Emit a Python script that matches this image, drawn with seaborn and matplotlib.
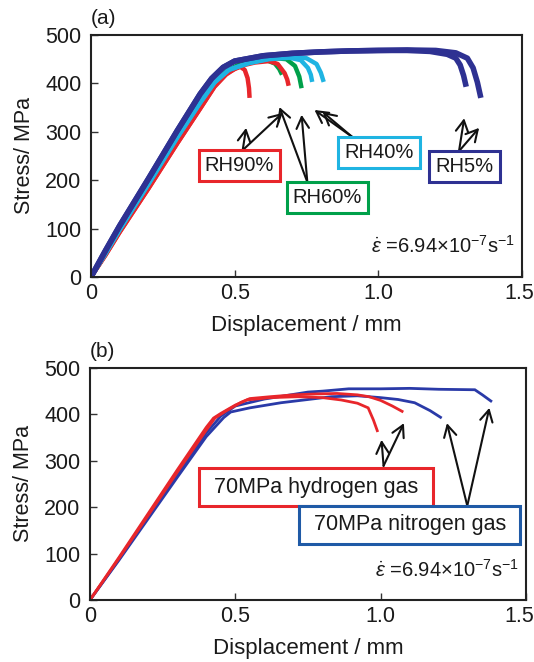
import matplotlib
matplotlib.use("Agg")
import matplotlib.pyplot as plt
from matplotlib.transforms import ScaledTranslation
import numpy as np
import pandas as pd
import seaborn as sns

# ---------------- (a) humidity series: displacement (mm) / stress (MPa) ----------------
rh90_1_x = [0, 0.05, 0.10, 0.20, 0.30, 0.38, 0.43, 0.47, 0.50, 0.52, 0.535, 0.545, 0.550, 0.552]
rh90_1_y = [0, 45, 93, 183, 276, 348, 393, 418, 430, 434, 428, 411, 390, 370]
rh90_2_x = [0, 0.05, 0.10, 0.20, 0.30, 0.38, 0.43, 0.47, 0.52, 0.57, 0.62, 0.65, 0.674, 0.683, 0.688]
rh90_2_y = [0, 45, 93, 183, 276, 348, 394, 420, 436, 443, 446, 440, 421, 408, 395]

rh60_1_x = [0, 0.05, 0.10, 0.20, 0.30, 0.38, 0.43, 0.47, 0.52, 0.57, 0.61, 0.64, 0.655, 0.665]
rh60_1_y = [0, 47, 96, 188, 282, 354, 398, 424, 440, 447, 448, 441, 430, 418]
rh60_2_x = [0, 0.05, 0.10, 0.20, 0.30, 0.38, 0.43, 0.47, 0.52, 0.58, 0.64, 0.68, 0.71, 0.725, 0.733]
rh60_2_y = [0, 47, 96, 188, 282, 354, 398, 424, 440, 448, 452, 450, 436, 414, 390]

rh40_1_x = [0, 0.05, 0.10, 0.20, 0.30, 0.38, 0.43, 0.48, 0.55, 0.62, 0.69, 0.73, 0.755, 0.765, 0.770]
rh40_1_y = [0, 48, 98, 192, 288, 360, 402, 428, 442, 450, 453, 448, 432, 418, 403]
rh40_2_x = [0, 0.05, 0.10, 0.20, 0.30, 0.38, 0.43, 0.48, 0.55, 0.62, 0.70, 0.75, 0.785, 0.800, 0.810]
rh40_2_y = [0, 48, 98, 192, 288, 360, 402, 428, 442, 451, 455, 452, 440, 422, 403]

rh5_1_x = [0, 0.05, 0.10, 0.20, 0.30, 0.38, 0.42, 0.46, 0.50, 0.60, 0.70, 0.80, 0.90, 1.00,
           1.10, 1.18, 1.24, 1.27, 1.285, 1.297, 1.306]
rh5_1_y = [0, 54, 106, 203, 302, 378, 410, 433, 446, 457, 462, 465, 467, 468,
           468, 466, 460, 452, 438, 416, 393]
rh5_2_x = [0, 0.05, 0.10, 0.20, 0.30, 0.38, 0.42, 0.46, 0.50, 0.60, 0.70, 0.80, 0.90, 1.00,
           1.10, 1.20, 1.27, 1.31, 1.33, 1.345, 1.357]
rh5_2_y = [0, 54, 106, 203, 302, 378, 410, 433, 446, 457, 462, 465, 467, 468,
           469, 468, 463, 452, 432, 402, 370]

# ---------------- (b) 70 MPa gas series ----------------
h2_1_x = [0, 0.10, 0.20, 0.30, 0.40, 0.425, 0.45, 0.50, 0.54, 0.62, 0.715, 0.80, 0.864, 0.92, 0.957, 0.975, 0.990]
h2_1_y = [0, 92, 186, 280, 372, 392, 402, 420, 431, 436, 438, 436, 431, 424, 414, 388, 362]
h2_2_x = [0, 0.10, 0.20, 0.30, 0.40, 0.43, 0.47, 0.52, 0.55, 0.62, 0.70, 0.78, 0.85, 0.92, 0.96, 1.00, 1.04, 1.078]
h2_2_y = [0, 90, 182, 275, 366, 392, 408, 426, 434, 438, 442, 444, 445, 442, 438, 430, 418, 405]

n2_1_x = [0, 0.10, 0.20, 0.30, 0.40, 0.46, 0.484, 0.55, 0.657, 0.75, 0.83, 0.92, 1.00, 1.06, 1.117, 1.17, 1.21]
n2_1_y = [0, 86, 175, 264, 352, 393, 405, 414, 425, 432, 438, 440, 436, 432, 425, 408, 392]
n2_2_x = [0, 0.10, 0.20, 0.30, 0.40, 0.45, 0.50, 0.60, 0.70, 0.75, 0.80, 0.89, 1.00, 1.10, 1.20, 1.324, 1.35, 1.383]
n2_2_y = [0, 88, 180, 270, 360, 396, 418, 433, 443, 448, 450, 455, 455, 456, 454, 453, 442, 427]

xticks = [0, 0.5, 1.0, 1.5]
xtick_labels = ["0", "0.5", "1.0", "1.5"]
yticks = [0, 100, 200, 300, 400, 500]

RED = "#e8262b"
GREEN = "#00a04a"
CYAN = "#1fb4e2"
NAVY = "#2e3192"
NBLUE = "#2a3aa8"
BOXBLUE = "#1f5aa6"

sns.set_theme(style="white")
plt.rcParams["font.family"] = ["Liberation Sans", "DejaVu Sans"]
plt.rcParams["mathtext.fontset"] = "custom"
plt.rcParams["mathtext.rm"] = "Liberation Sans"
plt.rcParams["mathtext.it"] = "Liberation Sans:italic"


def long_frame(curves):
    rows = []
    for name, run, xs, ys in curves:
        for x, y in zip(xs, ys):
            rows.append((name, run, x, y))
    return pd.DataFrame(rows, columns=["cond", "run", "disp", "stress"])


df_a = long_frame([
    ("RH60%", 1, rh60_1_x, rh60_1_y), ("RH60%", 2, rh60_2_x, rh60_2_y),
    ("RH90%", 1, rh90_1_x, rh90_1_y), ("RH90%", 2, rh90_2_x, rh90_2_y),
    ("RH40%", 1, rh40_1_x, rh40_1_y), ("RH40%", 2, rh40_2_x, rh40_2_y),
    ("RH5%", 1, rh5_1_x, rh5_1_y), ("RH5%", 2, rh5_2_x, rh5_2_y),
])
df_b = long_frame([
    ("N2", 1, n2_1_x, n2_1_y), ("N2", 2, n2_2_x, n2_2_y),
    ("H2", 1, h2_1_x, h2_1_y), ("H2", 2, h2_2_x, h2_2_y),
])

fig = plt.figure(figsize=(5.34, 6.62), dpi=100)
ax1 = fig.add_axes([0.1704, 0.5816, 0.807, 0.3656])
ax2 = fig.add_axes([0.1685, 0.0937, 0.8165, 0.3505])

widths_a = {"RH60%": 3.2, "RH90%": 3.2, "RH40%": 3.2, "RH5%": 4.0}
colors_a = {"RH60%": GREEN, "RH90%": RED, "RH40%": CYAN, "RH5%": NAVY}
for cond in ["RH60%", "RH90%", "RH40%", "RH5%"]:
    sub = df_a[df_a["cond"] == cond]
    sns.lineplot(data=sub, x="disp", y="stress", units="run", estimator=None, sort=False,
                 color=colors_a[cond], lw=widths_a[cond], ax=ax1, legend=False,
                 solid_capstyle="butt", solid_joinstyle="round")

colors_b = {"N2": NBLUE, "H2": RED}
for cond in ["N2", "H2"]:
    sub = df_b[df_b["cond"] == cond]
    sns.lineplot(data=sub, x="disp", y="stress", units="run", estimator=None, sort=False,
                 color=colors_b[cond], lw=2.0, ax=ax2, legend=False,
                 solid_capstyle="butt", solid_joinstyle="miter")

for ax, tag, shift in [(ax1, "(a)", -0.03), (ax2, "(b)", -0.07)]:
    ax.set_xlim(0, 1.5)
    ax.set_ylim(0, 500)
    ax.set_xticks(xticks)
    ax.set_xticklabels(xtick_labels)
    ax.set_yticks(yticks)
    ax.tick_params(direction="in", length=5, width=1.0, color="#333333",
                   labelsize=15.5, labelcolor="#1a1a1a", bottom=True, left=True)
    ax.tick_params(axis="y", pad=7)
    ax.tick_params(axis="x", pad=4)
    # keep the last x tick label inside the figure edge
    last = ax.get_xticklabels()[-1]
    last.set_transform(last.get_transform() + ScaledTranslation(shift, 0, fig.dpi_scale_trans))
    for sp in ax.spines.values():
        sp.set_linewidth(1.5)
        sp.set_color("#222222")
    ax.set_xlabel("Displacement / mm", fontsize=16, color="#1a1a1a", labelpad=8)
    ax.set_ylabel("Stress/ MPa", fontsize=15.5, color="#1a1a1a", labelpad=7)
    ax.text(0.0, 1.03, tag, transform=ax.transAxes, fontsize=15, ha="left", va="bottom",
            color="#1a1a1a")
    ax.text(0.985, 0.13, r"$\dot{\varepsilon}$ =6.94×10$^{\mathrm{-7}}$s$^{\mathrm{-1}}$",
            transform=ax.transAxes, fontsize=14.5, ha="right", va="center", color="#1a1a1a")

arrow_kw = dict(arrowstyle="->,head_length=0.55,head_width=0.3", lw=1.5, color="#111111",
                shrinkA=0, shrinkB=0, mutation_scale=15)


def arrows(ax, start, tips):
    for tip in tips:
        ax.annotate("", xy=tip, xytext=start, arrowprops=arrow_kw, zorder=4)


def label_box(ax, x, y, text, color, size, pad, z=5):
    ax.text(x, y, text, fontsize=size, ha="center", va="center", color="#1a1a1a", zorder=z,
            bbox=dict(boxstyle=f"square,pad={pad}", fc="white", ec=color, lw=2.2))


# (a) labels and arrows
arrows(ax1, (0.528, 262), [(0.54, 308), (0.667, 339)])
arrows(ax1, (0.753, 196), [(0.656, 351), (0.733, 335)])
arrows(ax1, (0.91, 289), [(0.778, 345), (0.806, 341)])
arrows(ax1, (1.281, 260), [(1.299, 328), (1.351, 308)])
label_box(ax1, 0.517, 231, "RH90%", RED, 14.5, 0.3)
label_box(ax1, 0.823, 165, "RH60%", GREEN, 14.5, 0.3)
label_box(ax1, 1.003, 258, "RH40%", CYAN, 14.5, 0.3)
label_box(ax1, 1.30, 229, "RH5%", NAVY, 14.5, 0.3)

# (b) labels and arrows
arrows(ax2, (1.01, 289), [(1.003, 345), (1.08, 381)])
arrows(ax2, (1.298, 203), [(1.228, 381), (1.374, 414)])
label_box(ax2, 0.778, 243, " 70MPa hydrogen gas ", RED, 15.5, 0.4, z=5)
label_box(ax2, 1.10, 162, " 70MPa nitrogen gas ", BOXBLUE, 15.5, 0.4, z=6)

fig.savefig("out.png", dpi=100, facecolor="white")
